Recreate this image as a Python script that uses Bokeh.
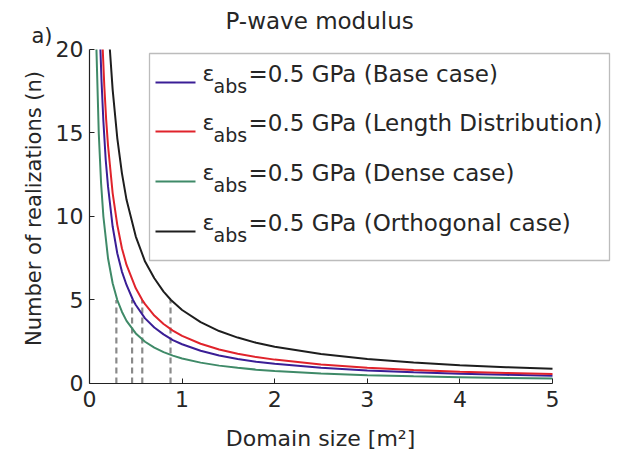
import math
from bokeh.plotting import figure
from bokeh.models import Range1d, FixedTicker, Label, BoxAnnotation
from bokeh.embed import file_html
from bokeh.resources import INLINE

# ---- data ----
x_base = [0.118, 0.13, 0.15, 0.175, 0.2, 0.25, 0.3, 0.35, 0.4, 0.47, 0.5, 0.6, 0.7, 0.8, 0.9, 1.0,
          1.2, 1.4, 1.6, 1.8, 2.0, 2.5, 3.0, 3.5, 4.0, 4.5, 5.0]
n_base = [20.0, 18.1, 15.7, 13.4, 11.8, 9.4, 7.8, 6.7, 5.9, 5.0, 4.7, 3.9, 3.35, 2.94, 2.6, 2.35,
          1.96, 1.68, 1.47, 1.3, 1.18, 0.94, 0.78, 0.67, 0.59, 0.52, 0.47]

x_length = [0.143, 0.16, 0.18, 0.2, 0.25, 0.3, 0.35, 0.4, 0.5, 0.57, 0.6, 0.7, 0.8, 0.9, 1.0,
            1.2, 1.4, 1.6, 1.8, 2.0, 2.5, 3.0, 3.5, 4.0, 4.5, 5.0]
n_length = [20.0, 17.8, 15.8, 14.25, 11.4, 9.5, 8.1, 7.1, 5.7, 5.0, 4.75, 4.07, 3.56, 3.17, 2.85,
            2.38, 2.04, 1.78, 1.58, 1.43, 1.14, 0.95, 0.81, 0.71, 0.63, 0.57]

x_dense = [0.075, 0.1, 0.125, 0.15, 0.2, 0.25, 0.3, 0.35, 0.4, 0.5, 0.6, 0.7, 0.8, 0.9, 1.0,
           1.2, 1.4, 1.6, 1.8, 2.0, 2.5, 3.0, 3.5, 4.0, 4.5, 5.0]
n_dense = [20.0, 15.0, 12.0, 10.0, 7.5, 6.0, 5.0, 4.3, 3.75, 3.0, 2.5, 2.15, 1.88, 1.67, 1.5,
           1.25, 1.07, 0.94, 0.83, 0.75, 0.6, 0.5, 0.43, 0.38, 0.33, 0.3]

x_orth = [0.22, 0.25, 0.3, 0.35, 0.4, 0.5, 0.6, 0.7, 0.8, 0.88, 1.0, 1.2, 1.4, 1.6, 1.8, 2.0,
          2.5, 3.0, 3.5, 4.0, 4.5, 5.0]
n_orth = [20.0, 17.6, 14.7, 12.6, 11.0, 8.8, 7.3, 6.3, 5.5, 5.0, 4.4, 3.67, 3.14, 2.75, 2.44, 2.2,
          1.76, 1.47, 1.26, 1.1, 0.98, 0.88]

dash_x = [0.29, 0.46, 0.57, 0.875]
dash_n = [5, 5, 5, 5]

x_ticks = [0, 1, 2, 3, 4, 5]
y_ticks = [0, 5, 10, 15, 20]

case_names = ["(Base case)", "(Length Distribution)", "(Dense case)", "(Orthogonal case)"]
case_colors = ["#3a1e96", "#e0232b", "#3f8a68", "#1e1e1e"]

# ---- styling ----
FONT = "DejaVu Sans"
TXT = "#262626"

# the frame covers the whole canvas; both axes are pinned at 0
p = figure(width=617, height=450, output_backend="svg", toolbar_location=None,
           x_range=Range1d(-0.9611, 5.648), y_range=Range1d(-4.012, 22.934),
           min_border_left=0, min_border_right=5, min_border_top=0, min_border_bottom=0)
p.outline_line_color = None
p.grid.visible = False
p.background_fill_color = "white"
p.border_fill_color = "white"

for ax in (p.xaxis[0], p.yaxis[0]):
    ax.axis_line_color = "#222222"
    ax.axis_line_width = 1.2
    ax.major_tick_line_color = "#222222"
    ax.major_tick_in = 5
    ax.major_tick_out = 0
    ax.minor_tick_line_color = None
    ax.major_label_text_font = FONT
    ax.major_label_text_font_size = "22px"
    ax.major_label_text_color = TXT

p.xaxis.ticker = FixedTicker(ticks=x_ticks)
p.xaxis.bounds = (0, 5)
p.xaxis.fixed_location = 0
p.xaxis.major_label_standoff = 8

p.yaxis.ticker = FixedTicker(ticks=y_ticks)
p.yaxis.bounds = (0, 20)
p.yaxis.fixed_location = 0
p.yaxis.major_label_standoff = 6

# dashed guide lines
p.segment(x0=dash_x, y0=[0] * len(dash_x), x1=dash_x, y1=dash_n,
          line_color="#8a8a8a", line_width=2.2, line_dash="6 4")

# curves
series = [(x_base, n_base), (x_length, n_length), (x_dense, n_dense), (x_orth, n_orth)]
for (xs, ns), c in zip(series, case_colors):
    p.line(xs, ns, line_color=c, line_width=2)

SCR = dict(left_units="screen", right_units="screen", bottom_units="screen", top_units="screen")


def text(x, y, s, size, **kw):
    opts = dict(text_baseline="alphabetic", text_align="left")
    opts.update(kw)
    p.add_layout(Label(x=x, y=y, x_units="screen", y_units="screen", text=s,
                       text_font=FONT, text_font_size=size, text_color=TXT, **opts))


# ---- legend (drawn manually for the subscript) ----
p.add_layout(BoxAnnotation(left=149, right=609, bottom=190, top=397, **SCR,
                           fill_color="white", fill_alpha=1.0,
                           line_color="#222222", line_width=1.3))
rows = [368, 319, 269, 219]
for r, name, c in zip(rows, case_names, case_colors):
    p.add_layout(BoxAnnotation(left=155, right=195, bottom=r - 1, top=r + 1, **SCR,
                               fill_color=c, fill_alpha=1.0, line_color=None))
    text(202, r + 9, "ε", "22px")
    text(213, r - 3, "abs", "19px")
    text(248, r + 9, "=0.5 GPa " + name, "23px")

# title, panel letter and axis titles
text(225, 430, "P-wave modulus", "23px")
text(31, 415, "a)", "21px")
text(320, 12, "Domain size [m²]", "22px", text_align="center")
text(33, 242, "Number of realizations (n)", "21px", text_align="center",
     text_baseline="middle", angle=math.pi / 2)

open("out.html", "w").write(file_html(p, INLINE))
